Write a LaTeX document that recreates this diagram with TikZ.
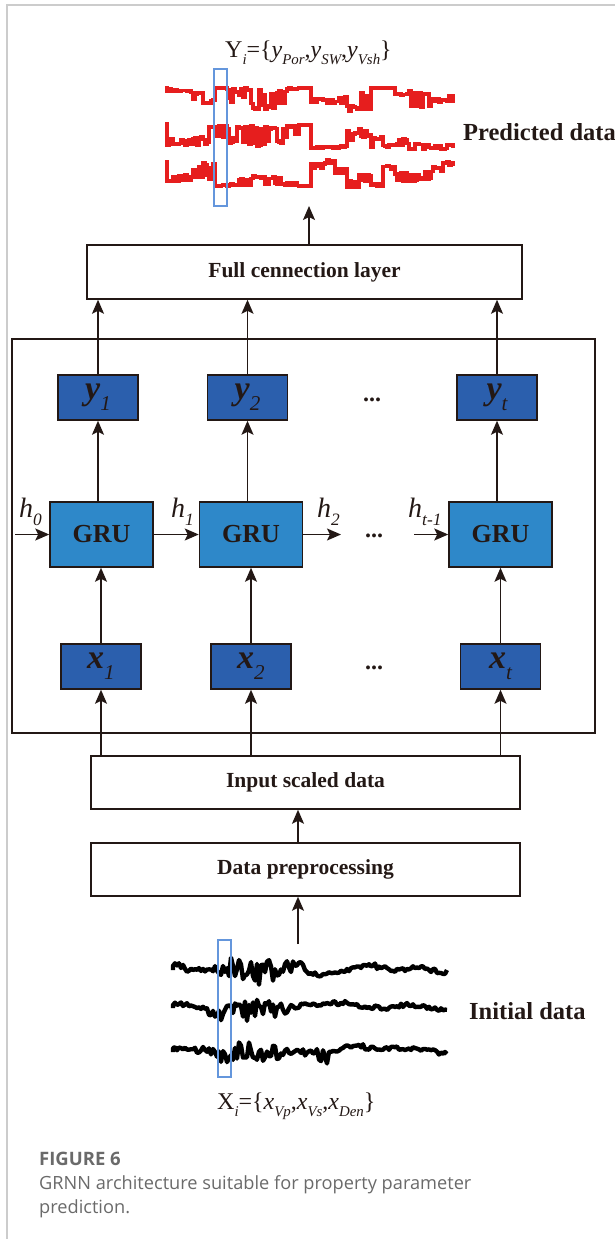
\documentclass[tikz,border=0pt]{standalone}
\usepackage{fontspec}
\setmainfont{Liberation Serif}
\newfontfamily\capfont{Open Sans}
\usetikzlibrary{arrows.meta}

\definecolor{cellblue}{HTML}{2B5FAD}
\definecolor{grublue}{HTML}{2E88C9}
\definecolor{predred}{HTML}{E61E1E}
\definecolor{winblue}{HTML}{6496DC}
\definecolor{inkblack}{HTML}{231815}
\definecolor{capgray}{HTML}{6A6A6A}
\definecolor{pagegray}{HTML}{CCCCCC}

% lowered italic index
\newcommand{\lowsub}[1]{\raisebox{-0.32em}{\scalebox{0.62}{\mdseries\itshape #1}}}
% noisy log trace: style, connector, noise, x start, base y, segments lv/amp
\newcommand{\wavetrace}[6]{%
	\draw[#1] (#4,#5) \foreach \lv/\amp [count=\k] in {#6} {
		\foreach \j in {0,...,5} { #2 ({#4+12*(\k-1)+2*\j},{#5+(\lv)+(\amp)*#3}) }
	};
}

\begin{document}
\begin{tikzpicture}[
		x = 1pt, y = -1pt,
		box/.style = { draw = inkblack, line width = 1.5pt, fill = white, inner sep = 0pt,
			minimum height = 53pt, text = inkblack, font = \fontsize{21.5}{24}\selectfont\bfseries },
		cell/.style = { draw = inkblack, line width = 1.5pt, fill = cellblue, inner sep = 0pt,
			minimum width = 80pt, minimum height = 45pt, text = inkblack,
			font = \fontsize{34}{36}\selectfont\bfseries\itshape },
		gru/.style = { draw = inkblack, line width = 1.5pt, fill = grublue, inner sep = 0pt,
			minimum width = 103pt, minimum height = 65pt, text = inkblack,
			font = \fontsize{26}{28}\selectfont\bfseries },
		arr/.style = { draw = inkblack, line width = 1.6pt, -{Stealth[length=14pt, width=12pt, inset=3pt]} },
		hlabel/.style = { anchor = base west, inner sep = 0pt, text = inkblack,
			font = \fontsize{28}{30}\selectfont\itshape },
		dots/.style = { inner sep = 0pt, text = inkblack, font = \fontsize{24}{26}\selectfont\bfseries },
		setlabel/.style = { anchor = base west, inner sep = 0pt, text = inkblack,
			font = \fontsize{24}{26}\selectfont },
		sidelabel/.style = { anchor = base west, inner sep = 0pt, text = inkblack,
			font = \fontsize{24.5}{26}\selectfont\bfseries },
		captext/.style = { anchor = base west, inner sep = 0pt, text = capgray,
			font = \capfont\fontsize{18.2}{21}\selectfont },
		redtrace/.style = { predred, line width = 3.5pt },
		blacktrace/.style = { black, line width = 4.4pt, line join = round },
		window/.style = { winblue, line width = 1.5pt }
	]
	\useasboundingbox (0,0) rectangle (615,1239);
	\draw[pagegray, line width = 1.5pt] (7,1239) -- (7,5) -- (615,5);

	% predicted logs
	\pgfmathsetseed{11}
	\wavetrace{redtrace}{-|}{(0.3*rnd+0.7*round(rnd))}{167}{86}{3/3, 4/4, 6/8, 14/4, 2/0, 2/14, 2/10, 2/22, 2/22, 2/18, 2/1, 2/0,
		12/5, 14/4, 10/8, 4/22, 4/20, 2/0, 2/0, 8/4, 4/20, 6/16, 12/5, 8/8}
	\wavetrace{redtrace}{-|}{(0.3*rnd+0.7*round(rnd))}{167}{122}{16/7, 17/6, 14/10, 3/20, 3/14, 3/18, 3/20, 3/22, 3/22, 3/18, 3/10, 3/0,
		25/1, 25/1, 24/2, 8/14, 6/10, 14/12, 23/2, 16/8, 20/8, 22/5, 23/4, 22/5}
	\wavetrace{redtrace}{-|}{(0.3*rnd+0.7*round(rnd))}{167}{160}{22/-5, 21/-6, 18/-12, 20/-18, 26/-5, 26/-7, 26/-8, 26/-10, 26/-10, 26/-8, 26/-4, 26/0,
		8/-5, 4/-4, 8/5, 20/8, 22/-8, 26/-2, 10/-4, 12/10, 22/-8, 20/-10, 12/-5, 6/-4}
	\draw[window] (214,69) rectangle (227,206);
	\node[setlabel] (ylabel) at (225,57) {Y\lowsub{i}=\{\textit{y}\lowsub{Por},\textit{y}\lowsub{SW},\textit{y}\lowsub{Vsh}\}};
	\node[sidelabel] (predicted) at (463,140) {Predicted data};
	\coordinate (predout) at (309,206);

	% fully connected layer and recurrent block
	\node[box, minimum width = 435pt, minimum height = 54pt] (fc) at (304.5,272) {Full cennection layer};
	\node[draw = inkblack, line width = 1.5pt, minimum width = 583pt, minimum height = 394pt] (rnn) at (303.5,536) {};

	\node[cell] (y1) at (98,397.5) {y\lowsub{1}};
	\node[cell] (y2) at (247.5,397.5) {y\lowsub{2}};
	\node[cell] (yt) at (497,397.5) {y\lowsub{t}};
	\node[dots] (ydots) at (372,400) {...};

	\node[gru] (gru1) at (101.5,534.5) {GRU};
	\node[gru] (gru2) at (251,534.5) {GRU};
	\node[gru] (grut) at (500.5,534.5) {GRU};
	\node[dots] (hdots) at (374,536) {...};

	\node[cell] (x1) at (101,666.5) {x\lowsub{1}};
	\node[cell] (x2) at (251,666.5) {x\lowsub{2}};
	\node[cell] (xt) at (500.5,666.5) {x\lowsub{t}};
	\node[dots] (xdots) at (374,668) {...};

	\coordinate (h0in) at (15,534.5);
	\coordinate (h2out) at (341,534.5);
	\coordinate (htin) at (414,534.5);
	\node[hlabel] (h0) at (19,517) {h\lowsub{0}};
	\node[hlabel] (h1) at (171,517) {h\lowsub{1}};
	\node[hlabel] (h2) at (317,517) {h\lowsub{2}};
	\node[hlabel] (ht) at (408,517) {h\lowsub{t-1}};

	\node[box, minimum width = 429pt] (inp) at (305.5,782.5) {Input scaled data};
	\node[box, minimum width = 429pt] (pre) at (305.5,869.5) {Data preprocessing};

	% initial logs
	\pgfmathsetseed{5}
	\wavetrace{blacktrace}{--}{rand}{173}{970}{-4/3, 0/2, 0/2, -2/6, -2/11, 0/10, 2/12, 4/14, 0/11, -4/7, -6/3, 3/3,
		5/2, 3/2, 0/2, -3/2, -5/2, -3/2, 0/2, -1/2, -2/2, 0/2, 2/2}
	\wavetrace{blacktrace}{--}{rand}{173}{1008}{-4/2, -3/2, -1/2, 4/6, 6/10, 4/11, 2/12, 0/11, 2/10, -1/7, -2/3, -4/2,
		-3/2, -5/2, -5/2, -2/2, -1/2, 0/2, -2/2, -3/2, -2/2, 0/2, 2/2}
	\wavetrace{blacktrace}{--}{rand}{173}{1052}{-3/2, -4/2, -2/3, 0/6, 2/10, 0/11, 0/11, 2/10, 0/8, -2/5, -1/2, 1/3,
		6/10, -2/2, -5/2, -6/2, -4/2, -3/2, -4/2, -3/2, -3/2, -2/2, 1/2}
	\draw[window] (218,940) rectangle (231,1077);
	\node[sidelabel] (initial) at (469,1019) {Initial data};
	\node[setlabel] (xlabel) at (217,1109) {X\lowsub{i}=\{\textit{x}\lowsub{Vp},\textit{x}\lowsub{Vs},\textit{x}\lowsub{Den}\}};
	\coordinate (initin) at (298,944);

	% connectors
	\draw[arr] (fc.north -| predout) -- (predout);
	\foreach \col in {1,2,t} {
		\draw[arr] (y\col.north) -- (y\col.north |- fc.south);
		\draw[arr] (y\col.south |- gru\col.north) -- (y\col.south);
		\draw[arr] (x\col.north) -- (x\col.north |- gru\col.south);
		\draw[arr] (x\col.south |- inp.north) -- (x\col.south);
	}
	\draw[arr] (h0in) -- (gru1.west);
	\draw[arr] (gru1.east) -- (gru2.west);
	\draw[arr] (gru2.east) -- (h2out);
	\draw[arr] (htin) -- (grut.west);
	\draw[arr] (pre.north -| initin) -- (inp.south -| initin);
	\draw[arr] (initin) -- (initin |- pre.south);

	% caption
	\node[captext, font = \capfont\bfseries\fontsize{18.5}{21}\selectfont] (figno) at (39,1165) {FIGURE 6};
	\node[captext] (capline1) at (39,1189) {GRNN architecture suitable for property parameter};
	\node[captext] (capline2) at (39,1213) {prediction.};
\end{tikzpicture}
\end{document}
